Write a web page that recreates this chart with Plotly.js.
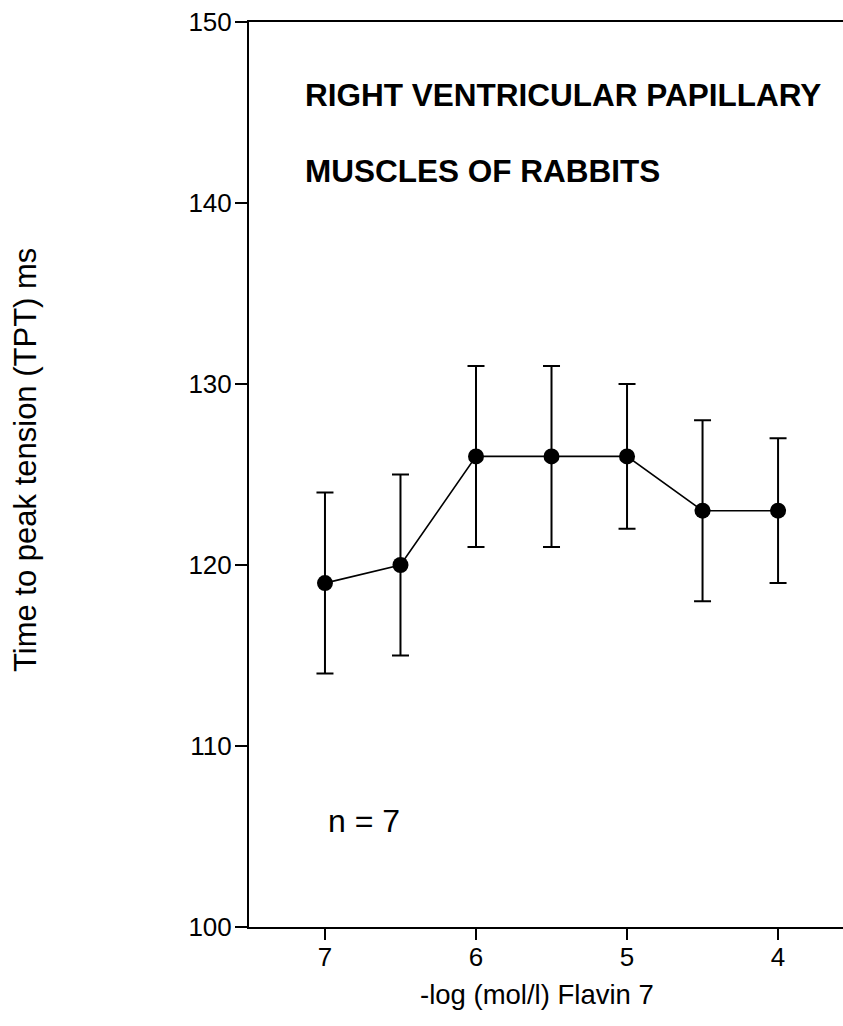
<!DOCTYPE html>
<html>
<head>
<meta charset="utf-8">
<script src="https://cdn.plot.ly/plotly-3.0.1.min.js"></script>
<style>html,body{margin:0;padding:0;background:#fff;}#chart{width:843px;height:1026px;}</style>
</head>
<body>
<div id="chart"></div>
<script>
// Data
var concentration = [7, 6.5, 6, 5.5, 5, 4.5, 4];          // -log (mol/l)
var tptMean = [119, 120, 126, 126, 126, 123, 123];         // ms
var tptErr = [5, 5, 5, 5, 4, 5, 4];                        // ms (SEM)
var xTickVals = [7, 6, 5, 4];
var yTickVals = [100, 110, 120, 130, 140, 150];
var titleLines = ["RIGHT VENTRICULAR PAPILLARY", "MUSCLES OF RABBITS"];
var nLabel = "n = 7";
var xTitle = "-log (mol/l) Flavin 7";
var yTitle = "Time to peak tension (TPT) ms";

var FONT = "Liberation Sans, Arial, sans-serif";
var L = 249, W = 594, T = 22, H = 905;
function px(p) { return (p - L) / W; }
function py(p) { return (T + H - p) / H; }

var trace = {
  x: concentration,
  y: tptMean,
  type: "scatter",
  mode: "lines+markers",
  line: {color: "#000", width: 1.6},
  marker: {color: "#000", size: 16},
  error_y: {type: "data", array: tptErr, visible: true, color: "#000", thickness: 2, width: 8.5},
  showlegend: false,
  cliponaxis: false
};

var layout = {
  width: 843, height: 1026,
  margin: {l: L, r: 0, t: T, b: 1026 - T - H},
  paper_bgcolor: "#fff", plot_bgcolor: "#fff",
  font: {family: FONT, color: "#000", size: 26},
  xaxis: {
    range: [7.503, 3.57],
    tickvals: xTickVals, ticktext: xTickVals.map(String),
    ticks: "outside", ticklen: 11, tickwidth: 2, tickcolor: "#000",
    ticklabelstandoff: -5,
    showline: true, linecolor: "#000", linewidth: 2, mirror: true,
    showgrid: false, zeroline: false,
    tickfont: {size: 26, family: FONT}
  },
  yaxis: {
    range: [100, 150],
    tickvals: yTickVals, ticktext: yTickVals.map(String),
    ticks: "outside", ticklen: 12, tickwidth: 2, tickcolor: "#000",
    ticklabelstandoff: -2,
    showline: true, linecolor: "#000", linewidth: 2,
    showgrid: false, zeroline: false,
    tickfont: {size: 26, family: FONT}
  },
  annotations: [
    {xref: "paper", yref: "y", x: px(303), y: 145.95, xanchor: "left", yanchor: "middle",
     text: "<b>" + titleLines[0] + "</b>", showarrow: false, font: {size: 31.5, family: FONT}},
    {xref: "paper", yref: "y", x: px(303), y: 141.768, xanchor: "left", yanchor: "middle",
     text: "<b>" + titleLines[1] + "</b>", showarrow: false, font: {size: 31.5, family: FONT}},
    {xref: "paper", yref: "y", x: px(326), y: 105.85, xanchor: "left", yanchor: "middle",
     text: nLabel, showarrow: false, font: {size: 32, family: FONT}},
    {xref: "paper", yref: "paper", x: px(537), y: py(994), xanchor: "center", yanchor: "middle",
     text: xTitle, showarrow: false, font: {size: 27.5, family: FONT}},
    {xref: "paper", yref: "paper", x: px(25), y: py(460), xanchor: "center", yanchor: "middle",
     text: yTitle, textangle: -90, showarrow: false, font: {size: 31, family: FONT}}
  ]
};

Plotly.newPlot("chart", [trace], layout, {displayModeBar: false, staticPlot: true});
</script>
</body>
</html>
